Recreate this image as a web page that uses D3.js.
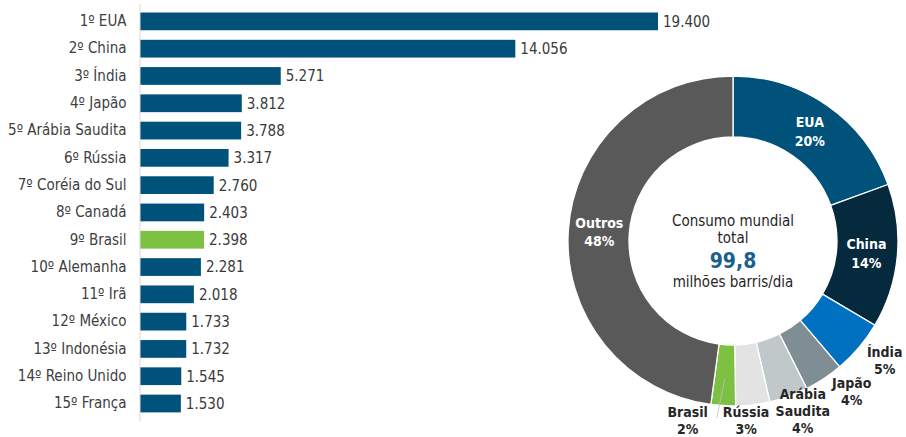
<!DOCTYPE html>
<html>
<head>
<meta charset="utf-8">
<script src="https://cdn.jsdelivr.net/npm/d3@7"></script>
<style>
  html, body { margin: 0; padding: 0; background: #ffffff; }
  svg { display: block; }
  text { font-family: "DejaVu Sans Condensed", "DejaVu Sans", sans-serif; font-stretch: condensed; }
</style>
</head>
<body>
<svg id="chart" width="906" height="437"></svg>
<script>
// ---------- DATA ----------
const countries = ["1º EUA", "2º China", "3º Índia", "4º Japão", "5º Arábia Saudita", "6º Rússia",
  "7º Coréia do Sul", "8º Canadá", "9º Brasil", "10º Alemanha", "11º Irã", "12º México",
  "13º Indonésia", "14º Reino Unido", "15º França"];
const consumption = [19400, 14056, 5271, 3812, 3788, 3317, 2760, 2403, 2398, 2281, 2018, 1733, 1732, 1545, 1530];
const highlighted = "9º Brasil";

const worldTotal = 99.8;
const pieNames = ["EUA", "China", "Índia", "Japão", "Arábia Saudita", "Rússia", "Brasil", "Outros"];
const pieValues = [19.400, 14.056, 5.271, 3.812, 3.788, 3.317, 2.398, 47.758];
const pieShares = ["20%", "14%", "5%", "4%", "4%", "3%", "2%", "48%"];
const centerLines = ["Consumo mundial", "total", "99,8", "milhões barris/dia"];

// ---------- STYLE ----------
const barColor = "#00527a";
const brasilColor = "#7dc142";
const pieColors = ["#00527a", "#052a3e", "#0071c1", "#7f8e95", "#c0c8c9", "#e3e3e3", "#7dc142", "#595959"];
const insideLabels = new Set(["EUA", "China", "Outros"]);

const svg = d3.select("#chart");
const ptLocale = d3.formatLocale({ decimal: ",", thousands: ".", grouping: [3], currency: ["R$", ""] });
const fmt = ptLocale.format(",.0f");

// ---------- BAR CHART ----------
const rows = countries.map((c, i) => ({ name: c, value: consumption[i] }));

const y = d3.scaleBand().domain(countries).range([3.5, 421.4]).paddingInner(0.35).paddingOuter(0.33);
const x = d3.scaleLinear().domain([0, 19400]).range([140, 658]);

const bars = svg.append("g");
bars.selectAll("rect").data(rows).join("rect")
  .attr("x", x(0))
  .attr("y", d => y(d.name))
  .attr("width", d => x(d.value) - x(0))
  .attr("height", y.bandwidth())
  .attr("fill", d => d.name === highlighted ? brasilColor : barColor);

bars.selectAll("text.val").data(rows).join("text")
  .attr("class", "val")
  .attr("x", d => x(d.value) + 5)
  .attr("y", d => y(d.name) + y.bandwidth() / 2)
  .attr("dy", "0.36em")
  .attr("font-size", 15)
  .attr("fill", "#3a3a3a")
  .text(d => fmt(d.value));

const axis = svg.append("g")
  .attr("transform", `translate(${x(0) - 0.5},0)`)
  .call(d3.axisLeft(y).tickSize(0).tickPadding(13));
axis.select(".domain").attr("stroke", "#d9d9d9").attr("stroke-width", 1);
axis.selectAll(".tick text")
  .attr("font-size", 15)
  .attr("fill", "#404040")
  .style("font-family", '"DejaVu Sans Condensed", "DejaVu Sans", sans-serif');

// ---------- DONUT ----------
const cx = 733, cy = 241, rOuter = 165, rInner = 104;
const pieData = pieNames.map((n, i) => ({ name: n, value: pieValues[i], share: pieShares[i], color: pieColors[i] }));
const pie = d3.pie().value(d => d.value).sort(null).startAngle(0).endAngle(2 * Math.PI);
const arcs = pie(pieData);
const arc = d3.arc().innerRadius(rInner).outerRadius(rOuter);
const g = svg.append("g").attr("transform", `translate(${cx},${cy})`);

g.selectAll("path").data(arcs).join("path")
  .attr("d", arc)
  .attr("fill", d => d.data.color)
  .attr("stroke", "#ffffff")
  .attr("stroke-width", 1.3);

// label placement (layout only)
const insideArc = d3.arc().innerRadius(134).outerRadius(134);
const outsideArc = d3.arc().innerRadius(192).outerRadius(192);
const nudge = {
  "Índia": [5, -4], "Japão": [13, -10], "Arábia Saudita": [5, -11],
  "Rússia": [-10, -11], "Brasil": [-34, -12]
};
const labelLines = d => {
  const parts = d.data.name === "Arábia Saudita" ? ["Arábia", "Saudita"] : [d.data.name];
  return parts.concat([d.data.share]);
};

arcs.forEach(d => {
  const inside = insideLabels.has(d.data.name);
  const [px, py] = inside ? insideArc.centroid(d) : outsideArc.centroid(d);
  const off = nudge[d.data.name] || [0, 0];
  const lines = labelLines(d);
  const lh = inside ? 18.5 : 17;
  const t = g.append("text")
    .attr("text-anchor", "middle")
    .attr("font-size", 14)
    .attr("font-weight", "bold")
    .attr("fill", inside ? "#ffffff" : "#262626");
  lines.forEach((ln, i) => {
    t.append("tspan")
      .attr("x", px + off[0])
      .attr("y", py + off[1] + (i - (lines.length - 1) / 2) * lh)
      .attr("dy", "0.36em")
      .text(ln);
  });
});

// leader line for Brasil
const bra = arcs.find(d => d.data.name === "Brasil");
const braIn = d3.arc().innerRadius(138).outerRadius(138).centroid(bra);
const braOut = [braIn[0] - 8, braIn[1] + 39];
g.append("line")
  .attr("x1", braIn[0]).attr("y1", braIn[1])
  .attr("x2", braOut[0]).attr("y2", braOut[1])
  .attr("stroke", "#bfbfbf").attr("stroke-width", 0.8);

// center text
const ct = g.append("g").attr("text-anchor", "middle");
const cOffsets = [-20, -3, 19, 41];
centerLines.forEach((ln, i) => {
  const big = i === 2;
  ct.append("text")
    .attr("x", 0)
    .attr("y", cOffsets[i])
    .attr("dy", "0.36em")
    .attr("font-size", big ? 21 : 15)
    .attr("font-weight", big ? "bold" : "normal")
    .attr("fill", big ? "#1b5f8c" : "#262626")
    .text(ln);
});
</script>
</body>
</html>
